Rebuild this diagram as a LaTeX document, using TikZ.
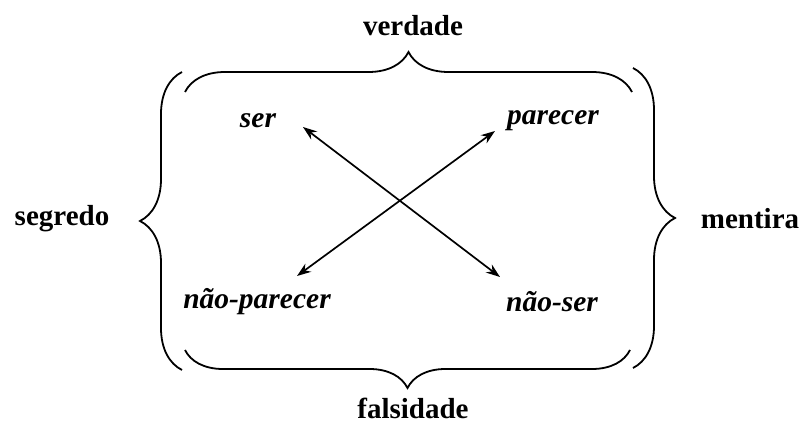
\documentclass[tikz,border=0pt]{standalone}
\usepackage{fontspec}
\setmainfont{Liberation Serif}
\usetikzlibrary{decorations.pathreplacing,arrows.meta}
\begin{document}
\begin{tikzpicture}[x=1pt,y=1pt,
  outer/.style={font=\bfseries\fontsize{29}{32}\selectfont},
  inner/.style={font=\bfseries\itshape\fontsize{29.5}{32}\selectfont},
  bracestyle/.style={decorate,decoration={brace,amplitude=#1},line width=1.8pt},
  arr/.style={{Stealth[length=14pt,width=10pt]}-{Stealth[length=14pt,width=10pt]},line width=1.7pt}]
\useasboundingbox (0,0) rectangle (804,432);
% outer labels
\node[outer] (verdade) at (413,406) {verdade};
\node[outer] (falsidade) at (413,24) {falsidade};
\node[outer] (segredo) at (62,213) {segredo};
\node[outer] (mentira) at (750,213) {mentira};
% inner labels
\node[inner] (ser) at (258,311) {ser};
\node[inner] (parecer) at (553,311) {parecer};
\node[inner] (naoparecer) at (257,130) {não-parecer};
\node[inner] (naoser) at (552,130) {não-ser};
% braces
\coordinate (tl) at (185,340); \coordinate (tr) at (632,340);
\coordinate (bl) at (185,82);  \coordinate (br) at (630,82);
\coordinate (lt) at (182,360); \coordinate (lb) at (182,62);
\coordinate (rt) at (633,364); \coordinate (rb) at (633,64);
\draw[bracestyle=40] (tl) -- (tr);
\draw[bracestyle=38] (br) -- (bl);
\draw[bracestyle=42] (lb) -- (lt);
\draw[bracestyle=42] (rt) -- (rb);
% arrows
\coordinate (a1) at (303,305); \coordinate (a2) at (500,155);
\coordinate (b1) at (297,156); \coordinate (b2) at (495,301);
\draw[arr] (a1) -- (a2);
\draw[arr] (b1) -- (b2);
\end{tikzpicture}
\end{document}
